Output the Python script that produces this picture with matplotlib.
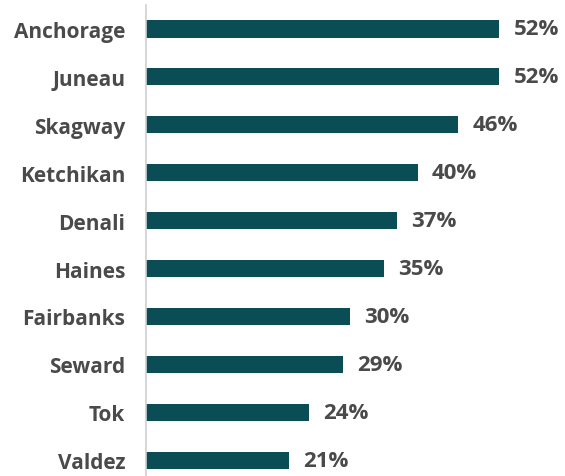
import matplotlib.pyplot as plt

cities = ['Anchorage', 'Juneau', 'Skagway', 'Ketchikan', 'Denali',
          'Haines', 'Fairbanks', 'Seward', 'Tok', 'Valdez']
shares = [52, 52, 46, 40, 37, 35, 30, 29, 24, 21]

bar_color = '#0b4d55'
text_color = '#4a4a4a'

fig = plt.figure(figsize=(5.65, 4.77), dpi=100)
ax = fig.add_axes([146 / 565, 0, (565 - 146) / 565, 471 / 477])

y = list(range(len(cities)))
ax.barh(y, shares, height=0.36, color=bar_color)

for yi, v in zip(y, shares):
    ax.text(v + 2.1, yi, f'{v}%', va='center', ha='left',
            fontsize=16, fontweight='bold', color=text_color, family='Open Sans')

ax.set_xlim(0, 61.7)
ax.set_ylim(9.33, -0.5)
ax.set_yticks(y)
ax.set_yticklabels(cities, fontsize=15, fontweight='bold', color=text_color, family='Open Sans')
ax.tick_params(axis='y', length=0, pad=15)
ax.set_xticks([])

for s in ['top', 'right', 'bottom']:
    ax.spines[s].set_visible(False)
ax.spines['left'].set_color('#d0d0d0')
ax.spines['left'].set_linewidth(1.2)

fig.savefig('out.png', dpi=100)
